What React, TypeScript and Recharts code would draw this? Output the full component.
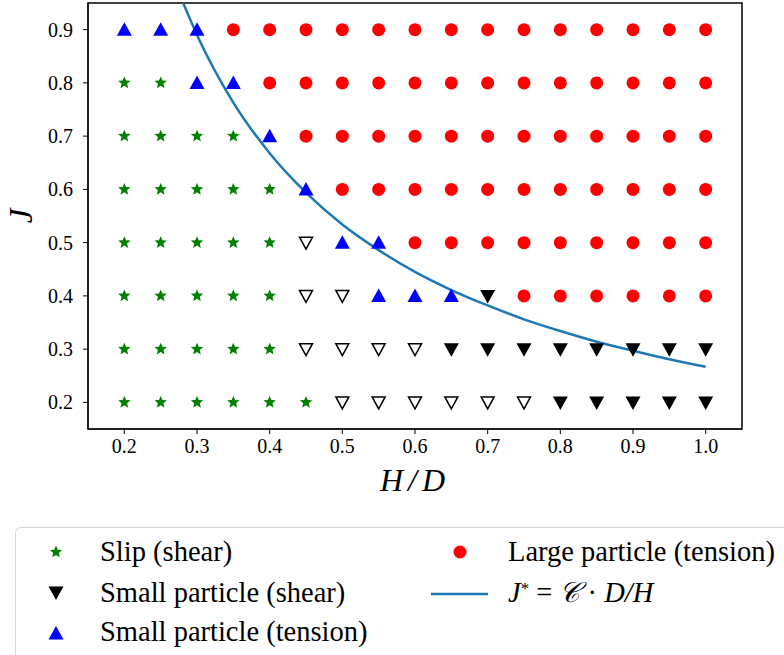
import React from 'react';
import { ComposedChart, XAxis, YAxis, Scatter, Line, ReferenceArea, Label } from 'recharts';

const slipShear = [
  { x: 0.2, y: 0.8 }, { x: 0.25, y: 0.8 },
  { x: 0.2, y: 0.7 }, { x: 0.25, y: 0.7 }, { x: 0.3, y: 0.7 }, { x: 0.35, y: 0.7 },
  { x: 0.2, y: 0.6 }, { x: 0.25, y: 0.6 }, { x: 0.3, y: 0.6 }, { x: 0.35, y: 0.6 }, { x: 0.4, y: 0.6 },
  { x: 0.2, y: 0.5 }, { x: 0.25, y: 0.5 }, { x: 0.3, y: 0.5 }, { x: 0.35, y: 0.5 }, { x: 0.4, y: 0.5 },
  { x: 0.2, y: 0.4 }, { x: 0.25, y: 0.4 }, { x: 0.3, y: 0.4 }, { x: 0.35, y: 0.4 }, { x: 0.4, y: 0.4 },
  { x: 0.2, y: 0.3 }, { x: 0.25, y: 0.3 }, { x: 0.3, y: 0.3 }, { x: 0.35, y: 0.3 }, { x: 0.4, y: 0.3 },
  { x: 0.2, y: 0.2 }, { x: 0.25, y: 0.2 }, { x: 0.3, y: 0.2 }, { x: 0.35, y: 0.2 }, { x: 0.4, y: 0.2 }, { x: 0.45, y: 0.2 },
];

const smallShear = [
  { x: 0.7, y: 0.4 },
  { x: 0.65, y: 0.3 }, { x: 0.7, y: 0.3 }, { x: 0.75, y: 0.3 }, { x: 0.8, y: 0.3 }, { x: 0.85, y: 0.3 },
  { x: 0.9, y: 0.3 }, { x: 0.95, y: 0.3 }, { x: 1.0, y: 0.3 },
  { x: 0.8, y: 0.2 }, { x: 0.85, y: 0.2 }, { x: 0.9, y: 0.2 }, { x: 0.95, y: 0.2 }, { x: 1.0, y: 0.2 },
];

const transition = [
  { x: 0.45, y: 0.5 },
  { x: 0.45, y: 0.4 }, { x: 0.5, y: 0.4 },
  { x: 0.45, y: 0.3 }, { x: 0.5, y: 0.3 }, { x: 0.55, y: 0.3 }, { x: 0.6, y: 0.3 },
  { x: 0.5, y: 0.2 }, { x: 0.55, y: 0.2 }, { x: 0.6, y: 0.2 }, { x: 0.65, y: 0.2 }, { x: 0.7, y: 0.2 }, { x: 0.75, y: 0.2 },
];

const smallTension = [
  { x: 0.2, y: 0.9 }, { x: 0.25, y: 0.9 }, { x: 0.3, y: 0.9 },
  { x: 0.3, y: 0.8 }, { x: 0.35, y: 0.8 },
  { x: 0.4, y: 0.7 },
  { x: 0.45, y: 0.6 },
  { x: 0.5, y: 0.5 }, { x: 0.55, y: 0.5 },
  { x: 0.55, y: 0.4 }, { x: 0.6, y: 0.4 }, { x: 0.65, y: 0.4 },
];

const largeXs = [0.35, 0.4, 0.45, 0.5, 0.55, 0.6, 0.65, 0.7, 0.75, 0.8, 0.85, 0.9, 0.95, 1.0];
const largeTension = [
  ...largeXs.map((x) => ({ x, y: 0.9 })),
  ...largeXs.slice(1).map((x) => ({ x, y: 0.8 })),
  ...largeXs.slice(2).map((x) => ({ x, y: 0.7 })),
  ...largeXs.slice(3).map((x) => ({ x, y: 0.6 })),
  ...largeXs.slice(5).map((x) => ({ x, y: 0.5 })),
  ...largeXs.slice(8).map((x) => ({ x, y: 0.4 })),
];

// J* curve
const criticalCurve = [
  { x: 0.281, y: 0.95 }, { x: 0.3, y: 0.89 }, { x: 0.35, y: 0.763 }, { x: 0.4, y: 0.668 },
  { x: 0.45, y: 0.594 }, { x: 0.5, y: 0.534 }, { x: 0.55, y: 0.486 }, { x: 0.6, y: 0.445 },
  { x: 0.65, y: 0.411 }, { x: 0.7, y: 0.382 }, { x: 0.75, y: 0.356 }, { x: 0.8, y: 0.334 },
  { x: 0.85, y: 0.314 }, { x: 0.9, y: 0.297 }, { x: 0.95, y: 0.281 }, { x: 1.0, y: 0.267 },
];

const xTicks = [0.2, 0.3, 0.4, 0.5, 0.6, 0.7, 0.8, 0.9, 1.0];
const yTicks = [0.2, 0.3, 0.4, 0.5, 0.6, 0.7, 0.8, 0.9];

const FONT = 'Liberation Serif';

const starPath = (cx: number, cy: number, r: number) => {
  const pts: string[] = [];
  for (let i = 0; i < 10; i++) {
    const rr = i % 2 === 0 ? r : r * 0.45;
    const a = -Math.PI / 2 + (i * Math.PI) / 5;
    pts.push(`${cx + rr * Math.cos(a)},${cy + rr * Math.sin(a)}`);
  }
  return `M${pts.join('L')}Z`;
};

const Star = (p: any) => <path d={starPath(p.cx, p.cy, 6.5)} fill="#008000" />;
const Circle = (p: any) => <circle cx={p.cx} cy={p.cy} r={6.5} fill="#ff0000" />;
const TriUp = (p: any) => (
  <path d={`M${p.cx},${p.cy - 7.5}L${p.cx + 7.5},${p.cy + 6}L${p.cx - 7.5},${p.cy + 6}Z`} fill="#0000ff" />
);
const TriDown = (p: any) => (
  <path d={`M${p.cx},${p.cy + 7.5}L${p.cx + 7.5},${p.cy - 6}L${p.cx - 7.5},${p.cy - 6}Z`} fill="#000000" />
);
const TriDownOpen = (p: any) => (
  <path
    d={`M${p.cx},${p.cy + 6.5}L${p.cx + 6.5},${p.cy - 5.5}L${p.cx - 6.5},${p.cy - 5.5}Z`}
    fill="#ffffff"
    stroke="#000000"
    strokeWidth={1.5}
    strokeLinejoin="miter"
  />
);

const JLabel = () => (
  <text
    x={21}
    y={216}
    transform="rotate(-90 21 216)"
    textAnchor="middle"
    dominantBaseline="central"
    fontFamily={FONT}
    fontStyle="italic"
    fontSize={33}
    fill="#000"
  >
    J
  </text>
);

const HDLabel = () => (
  <text
    x={415}
    y={480}
    textAnchor="middle"
    dominantBaseline="central"
    fontFamily={FONT}
    fontStyle="italic"
    fontSize={32}
    letterSpacing={5}
    fill="#000"
  >
    H/D
  </text>
);

const legendText: React.CSSProperties = {
  position: 'absolute',
  fontFamily: FONT,
  fontSize: 28.5,
  lineHeight: '30px',
  color: '#000',
  whiteSpace: 'nowrap',
};

const LegendBox = () => (
  <div
    style={{
      position: 'absolute',
      left: 15,
      top: 527,
      width: 776,
      height: 140,
      border: '1.5px solid #d6d6d6',
      borderRadius: 6,
      background: '#fff',
    }}
  >
    <svg width={776} height={140} style={{ position: 'absolute', left: 0, top: 0 }}>
      <path d={starPath(40, 24, 6.5)} fill="#008000" />
      <path d="M40,72L47.5,58.5L32.5,58.5Z" fill="#000" />
      <path d="M40,98L47.5,111.5L32.5,111.5Z" fill="#0000ff" />
      <circle cx={444} cy={24} r={6.5} fill="#ff0000" />
      <line x1={415} y1={66} x2={472} y2={66} stroke="#1f77b4" strokeWidth={2.5} />
    </svg>
    <div style={{ ...legendText, left: 84, top: 9 }}>Slip (shear)</div>
    <div style={{ ...legendText, left: 84, top: 50 }}>Small particle (shear)</div>
    <div style={{ ...legendText, left: 84, top: 89 }}>Small particle (tension)</div>
    <div style={{ ...legendText, left: 492, top: 9 }}>Large particle (tension)</div>
    <div style={{ ...legendText, left: 492, top: 50, fontStyle: 'italic' }}>
      J<sup style={{ fontSize: 17, fontStyle: 'normal', verticalAlign: '0.5em', lineHeight: 0 }}>*</sup>
      <span style={{ fontStyle: 'normal' }}> = </span>
      <span style={{ fontFamily: 'DejaVu Serif' }}>𝒞</span>
      <span style={{ fontStyle: 'normal' }}> · </span>D/H
    </div>
  </div>
);

const App: React.FC = () => {
  return (
    <div style={{ position: 'absolute', left: 0, top: 0, width: 784, height: 655, overflow: 'hidden', background: '#fff' }}>
      <ComposedChart width={784} height={655} margin={{ top: 3, right: 42, left: 0, bottom: 166 }}>
        <XAxis
          type="number"
          dataKey="x"
          domain={[0.15, 1.05]}
          ticks={xTicks}
          tickFormatter={(v: number) => v.toFixed(1)}
          height={60}
          tickSize={5}
          tickMargin={5}
          stroke="#000"
          tick={{ fill: '#000', fontFamily: FONT, fontSize: 20 }}
          allowDataOverflow
        >
          <Label content={HDLabel} />
        </XAxis>
        <YAxis
          type="number"
          dataKey="y"
          domain={[0.15, 0.95]}
          ticks={yTicks}
          tickFormatter={(v: number) => v.toFixed(1)}
          width={88}
          tickSize={5}
          tickMargin={10}
          stroke="#000"
          tick={{ fill: '#000', fontFamily: FONT, fontSize: 20 }}
          allowDataOverflow
        >
          <Label content={JLabel} />
        </YAxis>
        <Scatter data={slipShear} dataKey="y" shape={Star} isAnimationActive={false} />
        <Scatter data={smallShear} dataKey="y" shape={TriDown} isAnimationActive={false} />
        <Scatter data={transition} dataKey="y" shape={TriDownOpen} isAnimationActive={false} />
        <Scatter data={smallTension} dataKey="y" shape={TriUp} isAnimationActive={false} />
        <Scatter data={largeTension} dataKey="y" shape={Circle} isAnimationActive={false} />
        <Line
          data={criticalCurve}
          dataKey="y"
          type="monotone"
          stroke="#1f77b4"
          strokeWidth={2.5}
          dot={false}
          activeDot={false}
          isAnimationActive={false}
        />
        <ReferenceArea x1={0.15} x2={1.05} y1={0.15} y2={0.95} fill="none" stroke="#000" strokeWidth={1.5} fillOpacity={0} />
      </ComposedChart>
      <LegendBox />
    </div>
  );
};

export default App;
